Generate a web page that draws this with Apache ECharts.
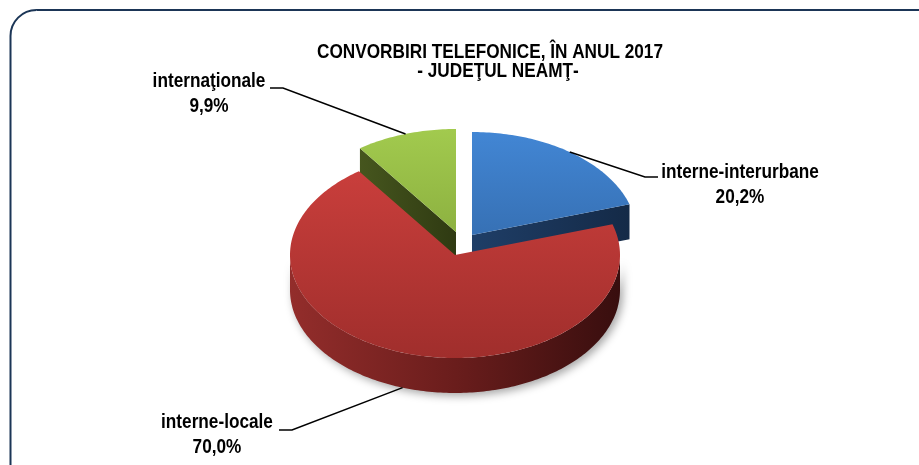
<!DOCTYPE html>
<html>
<head>
<meta charset="utf-8">
<script src="https://cdn.jsdelivr.net/npm/echarts@6/dist/echarts.min.js"></script>
<style>
  html, body { margin: 0; padding: 0; background: #ffffff; }
  #chart { width: 919px; height: 465px; }
</style>
</head>
<body>
<div id="chart"></div>
<script>
// Telephone calls by type, Neamţ county, 2017 (share of total, %)
const categories = ['interne-interurbane', 'interne-locale', 'internaţionale'];
const shares = [20.2, 70.0, 9.9];
const titleLines = ['CONVORBIRI TELEFONICE, ÎN ANUL 2017', '- JUDEŢUL NEAMŢ-'];

const FONT = '"Liberation Sans Narrow", "Arial Narrow", "Liberation Sans", Arial, sans-serif';
const NARROW = 0.86; // horizontal squeeze to get a condensed bold face

// 3D pie geometry (top ellipse, extrusion depth) and per-slice explode offsets
const pie = { cx: 455, cy: 255, rx: 165, ry: 103, depth: 35 };
const explodeOffset = [[17, -20], [0, 0], [1, -23]];
const palette = [
  { top: ['#4286d4', '#2b5b95'], side: ['#1f3e67', '#142a47'] },
  { top: ['#cd403d', '#a02e2c'], side: ['#932d2b', '#6a1d1c', '#380e0e'] },
  { top: ['#a2ca4e', '#789933'], side: ['#46561e', '#2f3a12'] }
];
// leader line elbows and label anchors
const labelLayout = [
  { elbow: [645, 177], end: [658, 177], text: [740, 185], fromBottom: false },
  { elbow: [292, 430], end: [279, 430], text: [217, 435], fromBottom: true },
  { elbow: [283, 88], end: [270, 88], text: [209, 94], fromBottom: false }
];

const total = shares.reduce((a, b) => a + b, 0);
const spans = [];
let acc = 0;
shares.forEach(v => {
  const a0 = acc / total * 360;
  acc += v;
  spans.push([a0, acc / total * 360]);
});

const rad = d => d * Math.PI / 180;
function fmt(v) { return v.toFixed(1).replace('.', ',') + '%'; }

function renderSlice(params, api) {
  const i = params.dataIndex;
  const [a0, a1] = spans[i];
  const ox = pie.cx + explodeOffset[i][0], oy = pie.cy + explodeOffset[i][1];
  const pt = (a, down) => [ox + pie.rx * Math.sin(rad(a)), oy - pie.ry * Math.cos(rad(a)) + (down || 0)];
  const col = palette[i];
  const children = [];

  // outer curved wall (front half only)
  const s0 = Math.max(a0, 90), s1 = Math.min(a1, 270);
  if (s1 > s0) {
    const pts = [];
    for (let a = s0; a < s1; a += 1) pts.push(pt(a));
    pts.push(pt(s1));
    for (let a = s1; a > s0; a -= 1) pts.push(pt(a, pie.depth));
    pts.push(pt(s0, pie.depth));
    const stops = col.side.map((c, k) => ({ offset: k / (col.side.length - 1), color: c }));
    children.push({
      type: 'polygon', z2: 1,
      shape: { points: pts },
      style: {
        fill: new echarts.graphic.LinearGradient(ox - pie.rx, 0, ox + pie.rx, 0, stops, true),
        shadowBlur: 8, shadowColor: 'rgba(0,0,0,0.35)', shadowOffsetX: 3, shadowOffsetY: 3
      }
    });
  }

  // radial cut faces that turn toward the viewer
  const faceEdges = [];
  if (Math.sin(rad(a1)) > 0.01) faceEdges.push(a1);
  if (Math.sin(rad(a0)) < -0.01) faceEdges.push(a0);
  faceEdges.forEach(a => {
    const e = pt(a);
    const pts = [[ox, oy], e, [e[0], e[1] + pie.depth], [ox, oy + pie.depth]];
    children.push({
      type: 'polygon', z2: 2,
      shape: { points: pts },
      style: {
        fill: new echarts.graphic.LinearGradient(Math.min(ox, e[0]), 0, Math.max(ox, e[0]), 0, [
          { offset: 0, color: col.side[0] },
          { offset: 1, color: col.side[col.side.length - 1] }
        ], true)
      }
    });
  });

  // top face
  const topPts = [[ox, oy]];
  for (let a = a0; a < a1; a += 1) topPts.push(pt(a));
  topPts.push(pt(a1));
  children.push({
    type: 'polygon', z2: 10,
    shape: { points: topPts },
    style: {
      fill: new echarts.graphic.LinearGradient(0, oy - pie.ry, 0, oy + pie.ry, [
        { offset: 0, color: col.top[0] },
        { offset: 1, color: col.top[1] }
      ], true)
    }
  });

  // leader line and label
  const lay = labelLayout[i];
  const start = pt((a0 + a1) / 2, lay.fromBottom ? pie.depth : 0);
  children.push({
    type: 'polyline', z2: 20,
    shape: { points: [start, lay.elbow, lay.end] },
    style: { stroke: '#000000', lineWidth: 1.5, fill: null }
  });
  children.push({
    type: 'text', z2: 21,
    x: lay.text[0], y: lay.text[1], scaleX: NARROW,
    style: {
      text: categories[i] + '\n' + fmt(api.value(0)),
      x: 0, y: 0,
      align: 'center', verticalAlign: 'middle',
      fontFamily: FONT, fontWeight: 'bold', fontSize: 20, lineHeight: 25,
      fill: '#000000'
    }
  });

  return { type: 'group', children };
}

const chart = echarts.init(document.getElementById('chart'), null, { renderer: 'canvas' });
chart.setOption({
  backgroundColor: '#ffffff',
  animation: false,
  graphic: [
    {
      type: 'rect', z: -1,
      shape: { x: 10.5, y: 10, width: 960, height: 500, r: 26 },
      style: { fill: 'none', stroke: '#1b3556', lineWidth: 2 }
    },
    {
      type: 'text', z: 10, x: 490, y: 52, scaleX: NARROW,
      style: {
        text: titleLines[0], x: 0, y: 0, align: 'center', verticalAlign: 'middle',
        fontFamily: FONT, fontWeight: 'bold', fontSize: 20, fill: '#000000'
      }
    },
    {
      type: 'text', z: 10, x: 498, y: 71, scaleX: NARROW,
      style: {
        text: titleLines[1], x: 0, y: 0, align: 'center', verticalAlign: 'middle',
        fontFamily: FONT, fontWeight: 'bold', fontSize: 20, fill: '#000000'
      }
    }
  ],
  series: [{
    type: 'custom',
    coordinateSystem: 'none',
    renderItem: renderSlice,
    data: shares.map((v, i) => ({ name: categories[i], value: [v, i] }))
  }]
});
</script>
</body>
</html>
